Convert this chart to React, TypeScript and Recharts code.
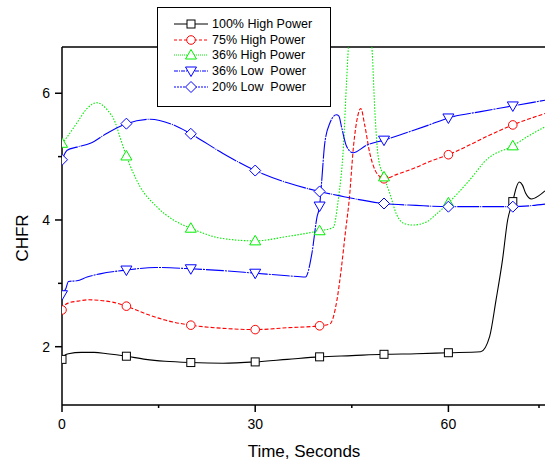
import { LineChart, Line, XAxis, YAxis, Legend, ReferenceLine } from "recharts";

if (typeof document !== "undefined") document.body.style.margin = "0";

// [time (s), CHFR]
const high100: [number, number][] = [
	[0, 1.8], [0.5, 1.87], [1, 1.89], [3, 1.91], [5, 1.91], [7, 1.89], [10, 1.85],
	[13, 1.8], [16, 1.77], [20, 1.75], [25, 1.74], [30, 1.76], [35, 1.8], [40, 1.84],
	[45, 1.86], [50, 1.88], [55, 1.89], [60, 1.905], [65, 1.92], [66.4, 2.16],
	[67.4, 2.74], [68.4, 3.37], [69.2, 4.0], [70, 4.29], [70.5, 4.5], [71, 4.6],
	[71.5, 4.55], [72, 4.42], [72.9, 4.33], [74, 4.38], [75, 4.46],
];

const high75: [number, number][] = [
	[0, 2.58], [0.5, 2.66], [1, 2.69], [2.5, 2.72], [4, 2.74], [6, 2.73], [8, 2.7],
	[10, 2.64], [13, 2.52], [16, 2.42], [20, 2.34], [25, 2.29], [30, 2.27], [35, 2.3],
	[40, 2.33], [41.6, 2.36], [42.7, 2.74], [43.4, 3.26], [44, 3.8], [44.6, 4.32],
	[45.3, 5.2], [45.9, 5.63], [46.4, 5.76], [47, 5.5], [47.8, 5.05], [48.6, 4.79],
	[49.4, 4.68], [50, 4.65], [52, 4.72], [55, 4.83], [57, 4.92], [60, 5.03],
	[63, 5.17], [66, 5.32], [70, 5.5], [75, 5.68],
];

const high36: [number, number][] = [
	[0, 5.21], [0.8, 5.31], [2.3, 5.53], [3.9, 5.76], [5.4, 5.85], [7, 5.74],
	[8.3, 5.53], [9, 5.31], [10, 5.01], [12.1, 4.53], [14.7, 4.21], [17.3, 4.0],
	[20, 3.87], [24.8, 3.71], [30, 3.67], [35, 3.74], [40, 3.83], [42.1, 3.88],
	[42.9, 4.32], [43.7, 5.16], [44.2, 6.21], [44.6, 6.9], [45.5, 7.3], [46.5, 7.4],
	[47.5, 7.1], [48.1, 6.75], [48.6, 5.68], [49.1, 5.0], [50, 4.68], [50.9, 4.42],
	[51.9, 4.1], [53, 3.95], [54.5, 3.92], [56.6, 3.97], [58, 4.08], [60, 4.27],
	[63.3, 4.63], [65.9, 4.95], [70, 5.17], [72.5, 5.33], [75, 5.47],
];

const low36: [number, number][] = [
	[0, 2.82], [0.6, 2.92], [1, 3.03], [2.3, 3.04], [3.9, 3.1], [5.9, 3.15],
	[10, 3.21], [14.5, 3.25], [20, 3.23], [25, 3.2], [30, 3.16], [35, 3.12],
	[37.8, 3.1], [38.8, 3.47], [39.6, 4.05], [40, 4.22], [40.3, 4.58], [40.8, 5.21],
	[41.6, 5.53], [42.6, 5.66], [43, 5.64], [43.4, 5.47], [44.2, 5.16], [45.2, 5.06],
	[47.3, 5.18], [50, 5.26], [53, 5.36], [57, 5.5], [60, 5.61], [65, 5.71],
	[70, 5.8], [75, 5.89],
];

const low20: [number, number][] = [
	[0, 4.95], [0.8, 5.1], [2.3, 5.15], [4.4, 5.21], [7, 5.37], [10, 5.52],
	[13.7, 5.59], [17.3, 5.5], [20, 5.36], [25, 5.05], [30, 4.78], [34.9, 4.59],
	[40, 4.45], [43.2, 4.38], [50, 4.26], [55, 4.23], [60, 4.21], [65, 4.21],
	[70, 4.21], [75, 4.25],
];

const markerTimes = [0, 10, 20, 30, 40, 50, 60, 70];
const xTicks = [0, 15, 30, 45, 60, 75];
const xLabels = [0, 30, 60];
const yTicks = [2, 3, 4, 5, 6];
const yLabels = [2, 4, 6];
const Y_MIN = 1.08;
const Y_MAX = 6.73;

type Shape = "square" | "circle" | "up" | "down" | "diamond";

interface SeriesDef {
	name: string;
	color: string;
	dash?: string; // plot line pattern
	legendDash?: string; // legend sample pattern
	shape: Shape;
	points: [number, number][];
}

const series: SeriesDef[] = [
	{ name: "100% High Power", color: "#000000", shape: "square", points: high100 },
	{ name: "75% High Power", color: "#ff0000", dash: "4 2", legendDash: "3 2", shape: "circle", points: high75 },
	{ name: "36% High Power", color: "#00ee00", dash: "1.5 1.5", legendDash: "1 1", shape: "up", points: high36 },
	{ name: "36% Low  Power", color: "#0000ff", dash: "18 1 2 1", legendDash: "4 1 1 1", shape: "down", points: low36 },
	{ name: "20% Low  Power", color: "#0000ff", dash: "22 1 1 1", legendDash: "2 1", shape: "diamond", points: low20 },
];

function Marker({ cx, cy, shape, color }: { cx: number; cy: number; shape: Shape; color: string }) {
	const common = { fill: "#fff", stroke: color, strokeWidth: 1 };
	switch (shape) {
		case "square":
			return <rect x={cx - 4} y={cy - 4} width={8} height={8} {...common} />;
		case "circle":
			return <circle cx={cx} cy={cy} r={4.3} {...common} />;
		case "up":
			return <polygon points={`${cx},${cy - 5.5} ${cx - 5.5},${cy + 4} ${cx + 5.5},${cy + 4}`} {...common} />;
		case "down":
			return <polygon points={`${cx - 5.5},${cy - 4} ${cx + 5.5},${cy - 4} ${cx},${cy + 5.5}`} {...common} />;
		default:
			return <polygon points={`${cx},${cy - 5.5} ${cx + 5.5},${cy} ${cx},${cy + 5.5} ${cx - 5.5},${cy}`} {...common} />;
	}
}

function makeDot(s: SeriesDef) {
	return (props: any) => {
		const { cx, cy, payload, index } = props;
		if (!markerTimes.includes(payload.t) || cx == null || cy == null) return <g key={index} />;
		return (
			<g key={index}>
				<Marker cx={cx} cy={cy} shape={s.shape} color={s.color} />
			</g>
		);
	};
}

function XTick(props: any) {
	const { x, y, payload } = props;
	const major = xLabels.includes(payload.value);
	return (
		<g>
			<line x1={x} x2={x} y1={y} y2={y + (major ? 7 : 3)} stroke="#000" strokeWidth={1.5} />
			{major && (
				<text x={x} y={y + 24} textAnchor="middle" fontSize={14} fill="#000" fontFamily="Liberation Sans, Arial, sans-serif">
					{payload.value}
				</text>
			)}
		</g>
	);
}

function YTick(props: any) {
	const { x, y, payload } = props;
	const major = yLabels.includes(payload.value);
	return (
		<g>
			<line x1={x - (major ? 7 : 4)} x2={x} y1={y} y2={y} stroke="#000" strokeWidth={1.5} />
			{major && (
				<text x={x - 12} y={y + 5} textAnchor="end" fontSize={14} fill="#000" fontFamily="Liberation Sans, Arial, sans-serif">
					{payload.value}
				</text>
			)}
		</g>
	);
}

function LegendBox() {
	return (
		<div
			style={{
				boxSizing: "border-box",
				width: 174,
				height: 100,
				background: "#fff",
				border: "1.5px solid #000",
				padding: "8px 0 0 14px",
				fontFamily: "Liberation Sans, Arial, sans-serif",
				fontSize: 12.5,
				color: "#000",
			}}
		>
			{series.map((s) => (
				<div key={s.name} style={{ display: "flex", alignItems: "center", height: 15.8 }}>
					<svg width={38} height={14} style={{ flex: "none" }}>
						<line x1={2} x2={36} y1={7} y2={7} stroke={s.color} strokeWidth={1} strokeDasharray={s.legendDash} />
						<Marker cx={19} cy={7} shape={s.shape} color={s.color} />
					</svg>
					<span style={{ whiteSpace: "pre", marginLeft: 2 }}>{s.name}</span>
				</div>
			))}
		</div>
	);
}

export default function App() {
	return (
		<div style={{ position: "relative", width: 547, height: 462, background: "#fff" }}>
			<LineChart width={547} height={462} margin={{ top: 47, right: 2, bottom: 0, left: 0 }}>
				<XAxis
					type="number"
					dataKey="t"
					domain={[0, 75]}
					ticks={xTicks}
					allowDataOverflow
					height={57}
					tickSize={0}
					tickMargin={0}
					tickLine={false}
					axisLine={{ stroke: "#000", strokeWidth: 1.5 }}
					tick={(p: any) => <XTick {...p} />}
					label={{
						content: () => (
							<text x={304} y={457} textAnchor="middle" fontSize={17} fill="#000" fontFamily="Liberation Sans, Arial, sans-serif">
								Time, Seconds
							</text>
						),
					}}
				/>
				<YAxis
					type="number"
					domain={[Y_MIN, Y_MAX]}
					ticks={yTicks}
					allowDataOverflow
					width={62}
					tickSize={0}
					tickMargin={0}
					tickLine={false}
					axisLine={{ stroke: "#000", strokeWidth: 1.5 }}
					tick={(p: any) => <YTick {...p} />}
					label={{
						content: () => (
							<text
								x={28}
								y={238}
								transform="rotate(-90, 28, 238)"
								textAnchor="middle"
								fontSize={17}
								fill="#000"
								fontFamily="Liberation Sans, Arial, sans-serif"
							>
								CHFR
							</text>
						),
					}}
				/>
				<ReferenceLine y={Y_MAX} stroke="#000" strokeWidth={1.5} />
				{series.map((s) => (
					<Line
						key={s.name}
						name={s.name}
						data={s.points.map(([t, v]) => ({ t, v }))}
						dataKey="v"
						type="monotone"
						stroke={s.color}
						strokeWidth={1.1}
						strokeDasharray={s.dash}
						dot={makeDot(s)}
						activeDot={false}
						isAnimationActive={false}
					/>
				))}
				<Legend
					layout="horizontal"
					verticalAlign="middle"
					align="center"
					wrapperStyle={{ left: 157, top: 7, width: 174, height: 100 }}
					content={() => <LegendBox />}
				/>
			</LineChart>
		</div>
	);
}
